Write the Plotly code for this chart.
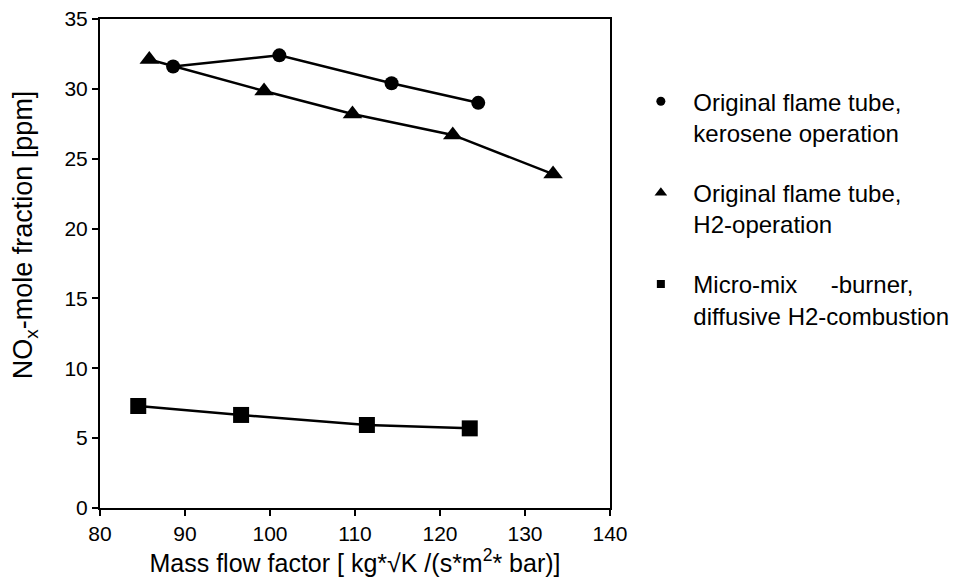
import plotly.graph_objects as go

# Original flame tube, kerosene operation
kero_x = [88.6, 101.1, 114.3, 124.5]
kero_y = [31.6, 32.4, 30.4, 29.0]

# Original flame tube, H2 operation
h2_x = [85.8, 99.3, 109.7, 121.5, 133.3]
h2_y = [32.1, 29.85, 28.2, 26.7, 23.9]

# Micro-mix burner, diffusive H2 combustion
mm_x = [84.5, 96.6, 111.4, 123.5]
mm_y = [7.3, 6.66, 5.94, 5.7]

x_ticks = [80, 90, 100, 110, 120, 130, 140]
y_ticks = [0, 5, 10, 15, 20, 25, 30, 35]

legend_names = [
    "Original flame tube,<br>kerosene operation",
    "Original flame tube,<br>H2-operation",
    "Micro-mix     -burner,<br>diffusive H2-combustion",
]

FONT = "Liberation Sans, Arial, sans-serif"
LINE = dict(color="black", width=2.5)

fig = go.Figure()

series = [
    (kero_x, kero_y, "circle", 14),
    (h2_x, h2_y, "triangle-up", 17),
    (mm_x, mm_y, "square", 16),
]
legend_sizes = [9, 11, 8]

for i, ((xs, ys, sym, sz), name, lsz) in enumerate(zip(series, legend_names, legend_sizes)):
    fig.add_trace(go.Scatter(
        x=xs, y=ys, mode="lines+markers", line=LINE,
        marker=dict(symbol=sym, size=sz, color="black"),
        showlegend=False, hoverinfo="skip",
    ))
    # marker-only entry for the legend
    fig.add_trace(go.Scatter(
        x=[None], y=[None], mode="markers", name=name, legendgroup=f"g{i}",
        marker=dict(symbol=sym, size=lsz, color="black"),
    ))

axis_common = dict(
    ticks="outside", ticklen=6, tickwidth=1.5, tickcolor="black",
    showgrid=False, zeroline=False, showline=True, linecolor="black",
    linewidth=2, mirror=True, tickfont=dict(size=21), automargin=False,
)

fig.update_layout(
    width=959, height=577,
    margin=dict(l=100, r=349, t=19, b=69, autoexpand=False),
    paper_bgcolor="white", plot_bgcolor="white",
    font=dict(family=FONT, color="black", size=21),
    legend=dict(
        x=1.036, y=0.877, xanchor="left", yanchor="top",
        font=dict(family=FONT, size=24, color="black"),
        valign="top", traceorder="grouped", tracegroupgap=26, itemwidth=55,
        bgcolor="rgba(0,0,0,0)",
    ),
    xaxis=dict(
        range=[80, 140], tickvals=x_ticks,
        title=dict(text="Mass flow factor [ kg*√K /(s*m<sup>2</sup>* bar)]",
                   font=dict(size=25), standoff=6),
        **axis_common,
    ),
    yaxis=dict(range=[0, 35], tickvals=y_ticks, **axis_common),
    annotations=[dict(
        text="NO<sub>x</sub>-mole fraction [ppm]", textangle=-90,
        xref="paper", yref="paper", x=-0.147, y=0.558,
        xanchor="center", yanchor="middle", showarrow=False,
        font=dict(size=27, family=FONT, color="black"),
    )],
)

fig.write_html("out.html")
